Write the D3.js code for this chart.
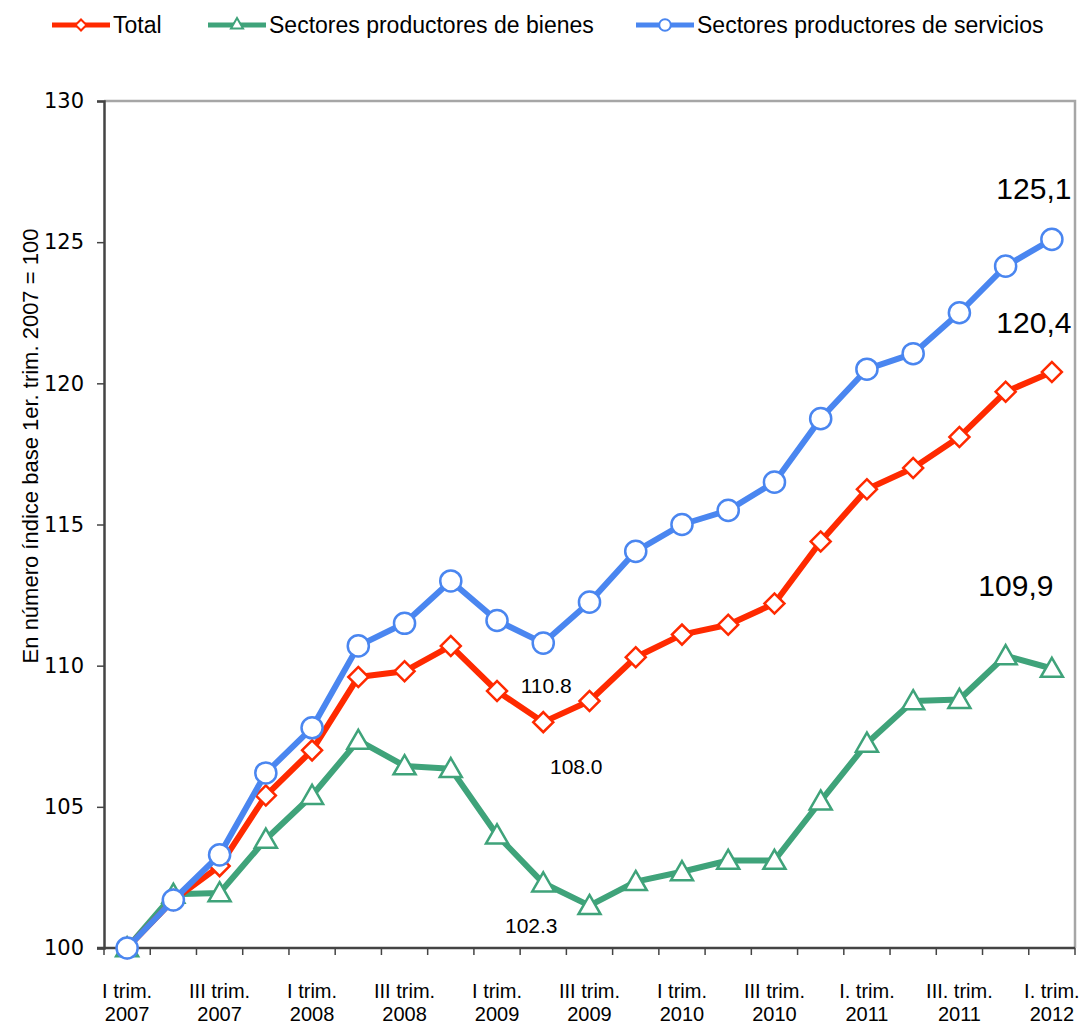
<!DOCTYPE html>
<html>
<head>
<meta charset="utf-8">
<script src="https://cdn.jsdelivr.net/npm/d3@7"></script>
<style>
   body { margin: 0; background: #fff; }
   text { font-family: "Liberation Sans", Arial, sans-serif; fill: #000; }
</style>
</head>
<body>
<div id="chart"></div>
<script>
const quarters = ['I-07', 'II-07', 'III-07', 'IV-07', 'I-08', 'II-08', 'III-08', 'IV-08',
   'I-09', 'II-09', 'III-09', 'IV-09', 'I-10', 'II-10', 'III-10', 'IV-10',
   'I-11', 'II-11', 'III-11', 'IV-11', 'I-12'];

// labels under every second quarter
const tickLabels = [
   ['I trim.', '2007'], ['III trim.', '2007'], ['I trim.', '2008'], ['III trim.', '2008'],
   ['I trim.', '2009'], ['III trim.', '2009'], ['I trim.', '2010'], ['III trim.', '2010'],
   ['I. trim.', '2011'], ['III. trim.', '2011'], ['I. trim.', '2012']
];

const total = [100, 101.7, 102.9, 105.4, 107.0, 109.6, 109.8, 110.7, 109.1, 108.0, 108.75,
   110.3, 111.1, 111.45, 112.2, 114.4, 116.25, 117.0, 118.1, 119.7, 120.4];
const bienes = [100, 101.9, 101.95, 103.85, 105.4, 107.35, 106.45, 106.35, 104.0, 102.3, 101.5,
   102.35, 102.7, 103.1, 103.1, 105.2, 107.25, 108.75, 108.8, 110.35, 109.9];
const servicios = [100, 101.7, 103.3, 106.2, 107.8, 110.7, 111.5, 113.0, 111.6, 110.8, 112.25,
   114.05, 115.0, 115.5, 116.5, 118.75, 120.5, 121.05, 122.5, 124.15, 125.1];

const yTicks = [100, 105, 110, 115, 120, 125, 130];

const seriesNames = ['Total', 'Sectores productores de bienes', 'Sectores productores de servicios'];

class LineChart {
   constructor(parentElem) {
      this.parentElem = parentElem;
      this.width = 1081;
      this.height = 1026;
      this.margin = { top: 101, right: 6, bottom: 78, left: 104 };

      this.series = [
         { name: seriesNames[1], values: bienes, color: '#3fa37a', symbol: 'triangle' },
         { name: seriesNames[0], values: total, color: '#ff2a00', symbol: 'diamond' },
         { name: seriesNames[2], values: servicios, color: '#4a86f0', symbol: 'circle' }
      ];

      this.initVis();
   }

   symbolPath(type, scale) {
      if (type === 'diamond') return d3.symbol(d3.symbolSquare, 200 * scale)();
      if (type === 'triangle') return d3.symbol(d3.symbolTriangle, 210 * scale)();
      return d3.symbol(d3.symbolCircle, 350 * scale)();
   }

   initVis() {
      const m = this.margin;
      this.svg = d3.select(this.parentElem).append('svg')
                     .attr('width', this.width)
                     .attr('height', this.height);

      this.x = d3.scalePoint()
                  .domain(quarters)
                  .range([m.left, this.width - m.right])
                  .padding(0.5);

      this.y = d3.scaleLinear()
                  .domain([100, 130])
                  .range([this.height - m.bottom, m.top]);

      this.drawAxes();
      this.drawLines();
      this.drawLabels();
      this.drawLegend();
   }

   drawAxes() {
      const m = this.margin;
      const x = this.x, y = this.y;
      const bottom = this.height - m.bottom;
      const right = this.width - m.right;

      // top and right frame
      this.svg.append('path')
         .attr('d', `M${m.left},${m.top}H${right}V${bottom}`)
         .attr('fill', 'none')
         .attr('stroke', '#a6a6a6')
         .attr('stroke-width', 2.5);

      const yAxis = this.svg.append('g')
         .attr('transform', `translate(${m.left},0)`)
         .call(d3.axisLeft(y).tickValues(yTicks).tickSize(7).tickPadding(13));
      yAxis.select('.domain').attr('stroke', '#444').attr('stroke-width', 2.5);
      yAxis.selectAll('.tick line').attr('stroke', '#444').attr('stroke-width', 1.5);
      yAxis.selectAll('.tick text')
         .style('font-family', '"DejaVu Sans", sans-serif')
         .style('font-size', '21px')
         .attr('fill', '#000');

      // x baseline with ticks at category borders
      const step = x.step();
      const borders = quarters.map(q => x(q) - step / 2).concat([x(quarters[quarters.length - 1]) + step / 2]);
      this.svg.append('line')
         .attr('x1', m.left - 7).attr('x2', right)
         .attr('y1', bottom).attr('y2', bottom)
         .attr('stroke', '#444').attr('stroke-width', 2.5);
      this.svg.selectAll('.xtick')
         .data(borders)
         .enter().append('line')
            .attr('class', 'xtick')
            .attr('x1', d => d).attr('x2', d => d)
            .attr('y1', bottom).attr('y2', bottom + 7)
            .attr('stroke', '#444').attr('stroke-width', 1.5);

      const lbl = this.svg.selectAll('.xlabel')
         .data(tickLabels)
         .enter().append('text')
            .attr('class', 'xlabel')
            .attr('text-anchor', 'middle')
            .style('font-size', '20px')
            .attr('transform', (d, i) => `translate(${x(quarters[i * 2])},0)`);
      lbl.append('tspan').attr('x', 0).attr('y', bottom + 50).text(d => d[0]);
      lbl.append('tspan').attr('x', 0).attr('y', bottom + 73).text(d => d[1]);

      this.svg.append('text')
         .attr('transform', `translate(38,446) rotate(-90)`)
         .attr('text-anchor', 'middle')
         .style('font-size', '22px')
         .text('En número índice base 1er. trim. 2007 = 100');
   }

   drawLines() {
      const x = this.x, y = this.y;
      const line = d3.line()
         .x((d, i) => x(quarters[i]))
         .y(d => y(d));

      this.series.forEach(s => {
         const g = this.svg.append('g').attr('class', 'series');
         g.append('path')
            .datum(s.values)
            .attr('fill', 'none')
            .attr('stroke', s.color)
            .attr('stroke-width', 6)
            .attr('stroke-linejoin', 'round')
            .attr('d', line);
         g.selectAll('path.marker')
            .data(s.values)
            .enter().append('path')
               .attr('class', 'marker')
               .attr('d', this.symbolPath(s.symbol, 1))
               .attr('transform', (d, i) => {
                  const rot = s.symbol === 'diamond' ? ' rotate(45)' : '';
                  const dy = s.symbol === 'triangle' ? 2 : 0;
                  return `translate(${x(quarters[i])},${y(d) + dy})${rot}`;
               })
               .attr('fill', '#fff')
               .attr('stroke', s.color)
               .attr('stroke-width', 2.5);
      });
   }

   drawLabels() {
      const x = this.x, y = this.y;
      const last = quarters.length - 1;
      const big = [
         { text: '125,1', values: servicios, dx: -18, dy: -40 },
         { text: '120,4', values: total, dx: -18, dy: -39 },
         { text: '109,9', values: bienes, dx: -36, dy: -72 }
      ];
      big.forEach(b => {
         this.svg.append('text')
            .attr('x', x(quarters[last]) + b.dx)
            .attr('y', y(b.values[last]) + b.dy)
            .attr('text-anchor', 'middle')
            .style('font-size', '30px')
            .text(b.text);
      });

      const small = [
         { text: '110.8', idx: 9, values: servicios, dx: 3, dy: 50 },
         { text: '108.0', idx: 9, values: total, dx: 33, dy: 52 },
         { text: '102.3', idx: 9, values: bienes, dx: -12, dy: 50 }
      ];
      small.forEach(b => {
         this.svg.append('text')
            .attr('x', x(quarters[b.idx]) + b.dx)
            .attr('y', y(b.values[b.idx]) + b.dy)
            .attr('text-anchor', 'middle')
            .style('font-size', '21px')
            .text(b.text);
      });
   }

   drawLegend() {
      const items = [
         { name: seriesNames[0], color: '#ff2a00', symbol: 'diamond', x: 52 },
         { name: seriesNames[1], color: '#3fa37a', symbol: 'triangle', x: 208 },
         { name: seriesNames[2], color: '#4a86f0', symbol: 'circle', x: 636 }
      ];
      const ly = 25;
      const g = this.svg.append('g').attr('class', 'legend');
      items.forEach(it => {
         g.append('line')
            .attr('x1', it.x).attr('x2', it.x + 58)
            .attr('y1', ly).attr('y2', ly)
            .attr('stroke', it.color).attr('stroke-width', 5);
         g.append('path')
            .attr('d', this.symbolPath(it.symbol, 0.3))
            .attr('transform', `translate(${it.x + 29},${ly})${it.symbol === 'diamond' ? ' rotate(45)' : ''}`)
            .attr('fill', '#fff')
            .attr('stroke', it.color)
            .attr('stroke-width', 2);
         g.append('text')
            .attr('x', it.x + 61)
            .attr('y', ly + 8)
            .style('font-size', '23px')
            .text(it.name);
      });
   }
}

new LineChart('#chart');
</script>
</body>
</html>
